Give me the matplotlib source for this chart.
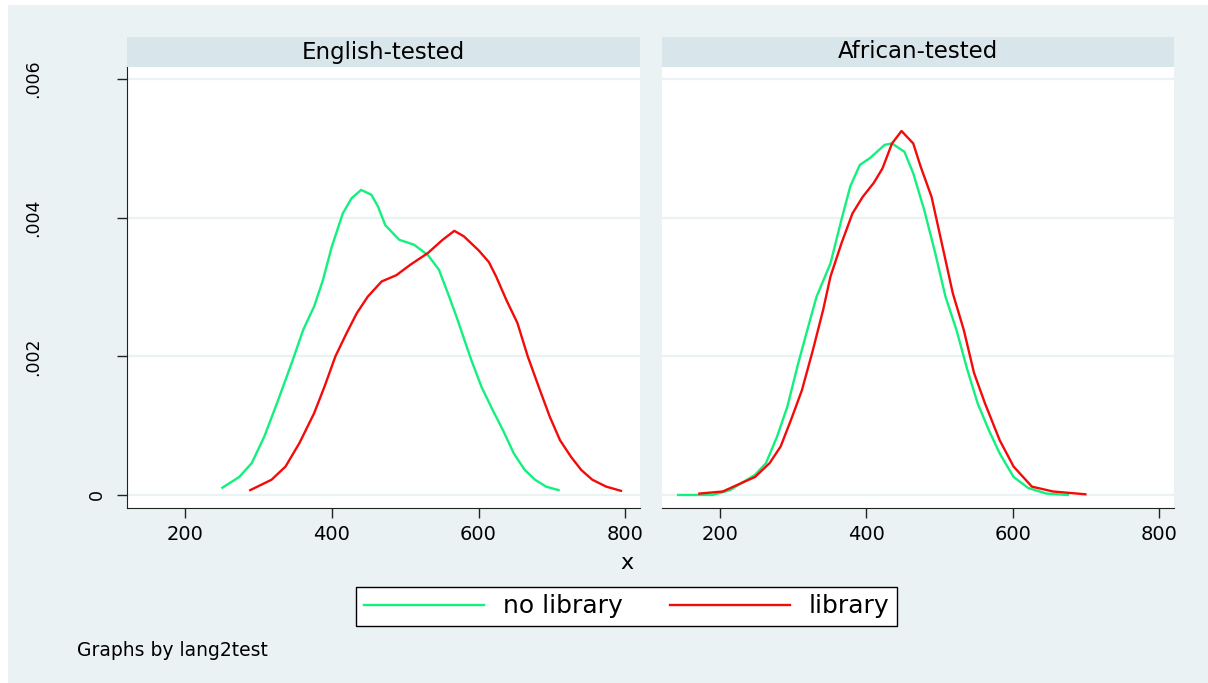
import numpy as np
import matplotlib.pyplot as plt
from matplotlib.patches import Rectangle

# kernel density curves
eng_nolib_x = [251, 274, 291, 308, 327, 347, 361, 376, 388, 400, 415, 427, 440, 454,
               463, 473, 492, 512, 531, 546, 560, 570, 590, 604, 619, 633, 648, 663,
               677, 692, 709]
eng_nolib_y = [0.000105, 0.00026, 0.00046, 0.00084, 0.00137, 0.00195, 0.00238, 0.00272,
               0.00310, 0.00358, 0.00406, 0.00428, 0.00440, 0.00433, 0.00416, 0.00389,
               0.00368, 0.00361, 0.00346, 0.00325, 0.00286, 0.00257, 0.00195, 0.00156,
               0.00123, 0.00094, 0.00060, 0.00036, 0.00022, 0.00012, 0.00007]

eng_lib_x = [289, 318, 337, 356, 376, 390, 405, 420, 434, 449, 468, 488, 507, 531, 551,
             567, 580, 600, 614, 624, 638, 653, 667, 682, 697, 711, 726, 740, 755, 774, 794]
eng_lib_y = [0.00007, 0.00022, 0.00041, 0.00075, 0.00118, 0.00156, 0.00200, 0.00233,
             0.00262, 0.00286, 0.00308, 0.00317, 0.00332, 0.00349, 0.00368, 0.00381,
             0.00373, 0.00353, 0.00336, 0.00315, 0.00281, 0.00248, 0.00200, 0.00156,
             0.00113, 0.00079, 0.00055, 0.00036, 0.00022, 0.00012, 0.00006]

afr_nolib_x = [143, 190, 214, 248, 263, 278, 292, 307, 322, 332, 351, 366, 378, 391, 405,
               425, 435, 452, 464, 479, 494, 508, 523, 538, 552, 567, 582, 601, 621, 646, 675]
afr_nolib_y = [0.0, 0.0, 0.00007, 0.00029, 0.00046, 0.00084, 0.00127, 0.00190, 0.00248,
               0.00286, 0.00334, 0.00397, 0.00445, 0.00476, 0.00486, 0.00505, 0.00507,
               0.00495, 0.00464, 0.00411, 0.00349, 0.00286, 0.00238, 0.00180, 0.00132,
               0.00094, 0.00060, 0.00026, 0.00010, 0.00002, 0.0]

afr_lib_x = [172, 204, 229, 248, 268, 283, 297, 312, 327, 341, 351, 366, 381, 395, 410,
             422, 435, 448, 464, 474, 489, 503, 518, 533, 547, 562, 582, 601, 626, 655, 699]
afr_lib_y = [0.00002, 0.00005, 0.00017, 0.00026, 0.00046, 0.00070, 0.00108, 0.00151,
             0.00209, 0.00267, 0.00315, 0.00363, 0.00406, 0.00430, 0.00450, 0.00471,
             0.00507, 0.00525, 0.00507, 0.00474, 0.00430, 0.00363, 0.00291, 0.00238,
             0.00176, 0.00132, 0.00079, 0.00041, 0.00012, 0.00005, 0.00001]

panels = ["English-tested", "African-tested"]
series_names = ["no library", "library"]
xticks = [200, 400, 600, 800]
yticks = [0, 0.002, 0.004, 0.006]
ytick_labels = ["0", ".002", ".004", ".006"]

GREEN = "#12F07E"
RED = "#F50A0A"
BG = "#EAF2F3"
STRIP = "#D8E5EA"

W, H = 1208, 683
fig = plt.figure(figsize=(W / 100, H / 100), dpi=100)
fig.patch.set_facecolor("white")
fig.patches.append(Rectangle((8 / W, 0), 1 - 8 / W, 1 - 5 / H, transform=fig.transFigure,
                             facecolor=BG, edgecolor="none", zorder=-10))

font = "DejaVu Sans"
ax_bottom = 1 - 508 / H
ax_height = (508 - 67) / H
strip_h = 30 / H
lefts = [127, 662]
widths = [513, 512]
data = [(eng_nolib_x, eng_nolib_y, eng_lib_x, eng_lib_y),
        (afr_nolib_x, afr_nolib_y, afr_lib_x, afr_lib_y)]

for i, title in enumerate(panels):
    ax = fig.add_axes([lefts[i] / W, ax_bottom, widths[i] / W, ax_height])
    ax.set_facecolor("white")
    gx, gy, rx, ry = data[i]
    for yv in yticks:
        ax.axhline(yv, color=BG, lw=1.6, zorder=0)
    ax.plot(gx, gy, color=GREEN, lw=1.7, label=series_names[0])
    ax.plot(rx, ry, color=RED, lw=1.7, label=series_names[1])
    ax.set_xlim(121, 820)
    ax.set_ylim(-0.000188, 0.006173)
    for s in ["top", "right"]:
        ax.spines[s].set_visible(False)
    ax.spines["bottom"].set_color("#222222")
    ax.spines["left"].set_color("#222222")
    ax.set_xticks(xticks)
    ax.set_xticklabels([str(v) for v in xticks], fontsize=14, family=font)
    ax.tick_params(axis="x", length=7, width=1, color="#222222", pad=5)
    ax.set_yticks(yticks)
    ax.set_yticklabels([])
    if i == 0:
        ax.tick_params(axis="y", length=7, width=1, color="#222222")
        for yv, lab in zip(yticks, ytick_labels):
            xc = 97 if lab == "0" else 33
            ax.text((xc - lefts[i]) / widths[i], yv, lab, rotation=90, ha="center",
                    va="center", fontsize=12.5, family=font,
                    transform=ax.get_yaxis_transform())
    else:
        ax.spines["left"].set_visible(False)
        ax.tick_params(axis="y", length=0)
    # panel header strip
    fig.patches.append(Rectangle((lefts[i] / W, 1 - 67 / H), widths[i] / W, strip_h,
                                 transform=fig.transFigure, facecolor=STRIP,
                                 edgecolor="none"))
    fig.text((lefts[i] + widths[i] / 2) / W, 1 - 52 / H, title, ha="center", va="center",
             fontsize=16.5, family=font)
    if i == 0:
        handles, labels = ax.get_legend_handles_labels()

fig.text(627 / W, 1 - 563 / H, "x", ha="center", va="center", fontsize=16, family=font)

leg = fig.legend(handles, labels, loc="center", bbox_to_anchor=(626.5 / W, 1 - 606.5 / H),
                 ncol=2, frameon=True, fancybox=False, edgecolor="black", facecolor="white",
                 framealpha=1, prop={"family": font, "size": 18}, handlelength=4.8,
                 handletextpad=0.75, columnspacing=1.9, borderpad=0.3)
leg.get_frame().set_linewidth(1.0)

fig.text(77 / W, 1 - 650 / H, "Graphs by lang2test", ha="left", va="center",
         fontsize=13.5, family=font)

fig.savefig("out.png", dpi=100, facecolor=fig.get_facecolor())
